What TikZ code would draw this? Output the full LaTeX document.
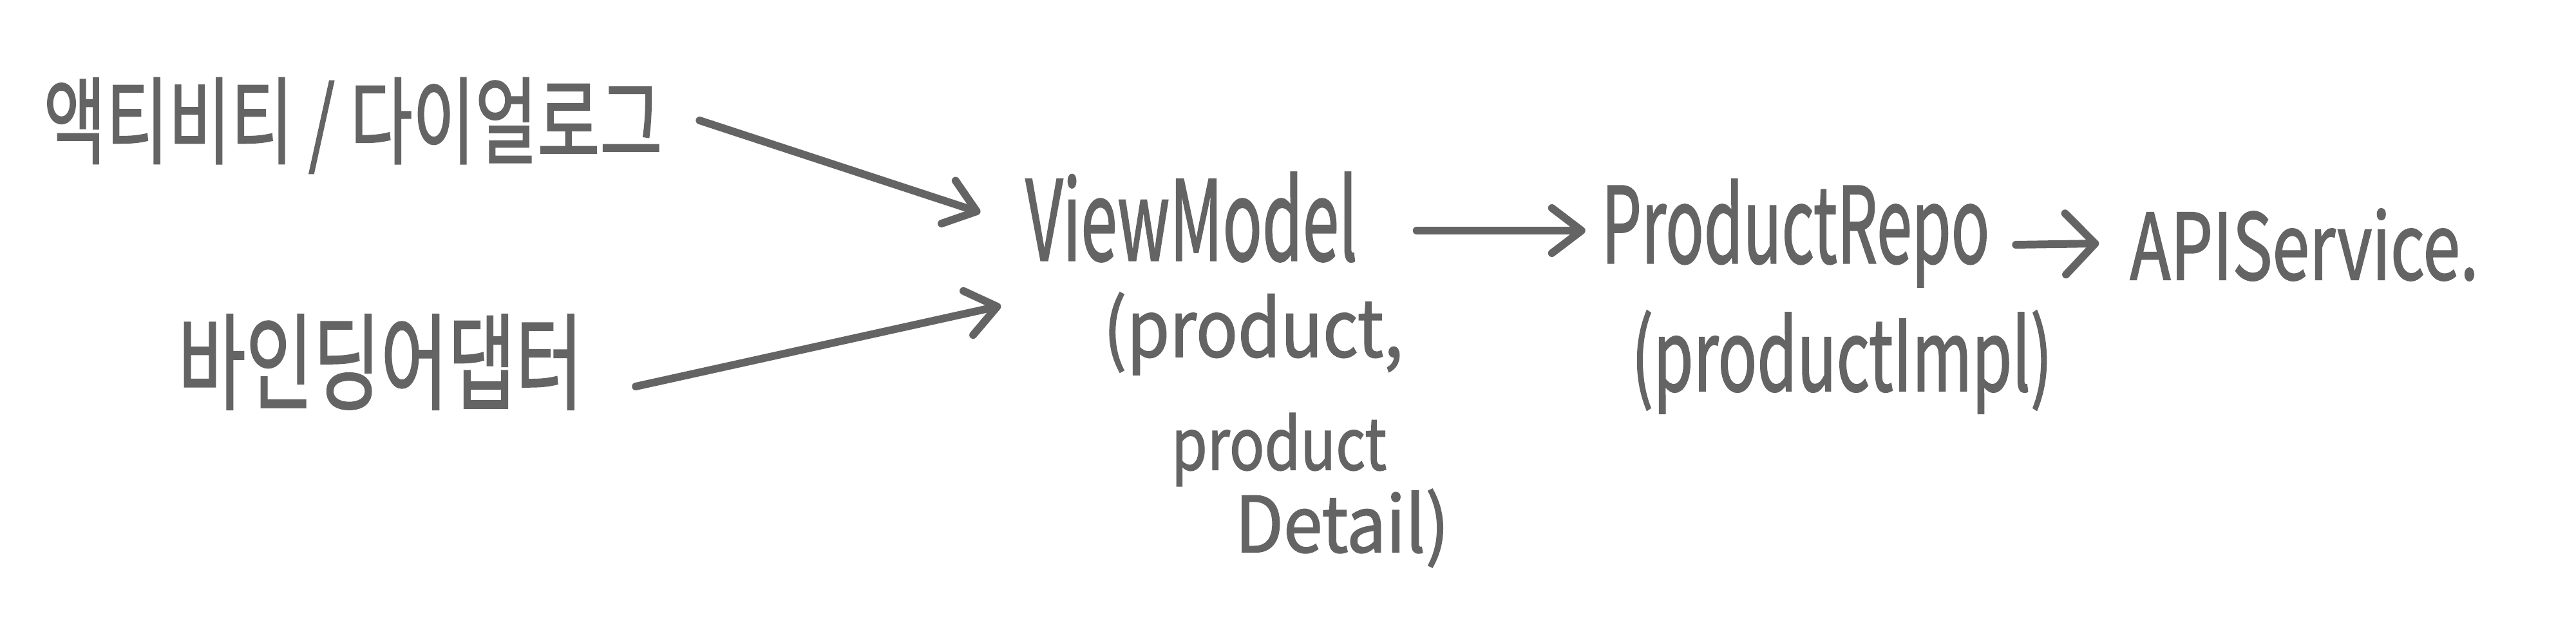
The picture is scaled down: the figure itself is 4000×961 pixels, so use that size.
\documentclass[tikz,border=0pt]{standalone}
\usepackage{fontspec}
\setmainfont{Noto Sans CJK KR}
\newfontfamily\hwfont{Noto Sans CJK KR}[FakeBold=1.5]
\usetikzlibrary{arrows.meta,calc}
\definecolor{ink}{HTML}{646464}
\newcommand{\hwtext}[3]{\resizebox{#1}{#2}{\hwfont #3}}
\begin{document}
\begin{tikzpicture}[x=0.01cm,y=-0.01cm,
  lbl/.style={inner sep=0pt,outer sep=0pt,text=ink,anchor=center},
  conn/.style={draw=ink,line width=3.4pt,line cap=round,line join=round,
    -{Straight Barb[length=0.46cm,width=0.7cm,line cap=round,line join=round]}},
  connwide/.style={conn,-{Straight Barb[length=0.46cm,width=0.95cm,line cap=round,line join=round]}}]
\useasboundingbox[fill=white] (0,0) rectangle (4000,961);

\node[lbl] (act)  at (548,195) {\hwtext{9.6cm}{1.22cm}{액티비티 / 다이얼로그}};
\node[lbl] (bind) at (591,562) {\hwtext{6.28cm}{1.35cm}{바인딩어댑터}};

\node[lbl] (vm)   at (1850,337) {\hwtext{5.15cm}{1.37cm}{ViewModel}};
\node[lbl] (vm2)  at (1946,518) {\hwtext{4.65cm}{1.0cm}{(product,}};
\node[lbl] (vm3)  at (1986,698) {\hwtext{3.34cm}{0.88cm}{product}};
\node[lbl] (vm4)  at (2084,820) {\hwtext{3.32cm}{0.98cm}{Detail)}};

\node[lbl] (repo) at (2788,362) {\hwtext{6.02cm}{1.3cm}{ProductRepo}};
\node[lbl] (impl) at (2860,562) {\hwtext{6.53cm}{1.25cm}{(productImpl)}};

\node[lbl] (api)  at (3578,380) {\hwtext{5.41cm}{1.1cm}{APIService.}};

\draw[conn] ($(act.east)+(58,-8)$) -- ($(vm.west)+(-70,-7)$);
\draw[conn] ($(bind.east)+(82,38)$) -- ($(vm.south west)+(-38,68)$);
\draw[conn] ($(vm.east)+(92,21)$) -- ($(repo.west)+(-25,-4)$);
\draw[connwide] ($(repo.east)+(41,18)$) -- ($(api.west)+(-48,-2)$);
\end{tikzpicture}
\end{document}
